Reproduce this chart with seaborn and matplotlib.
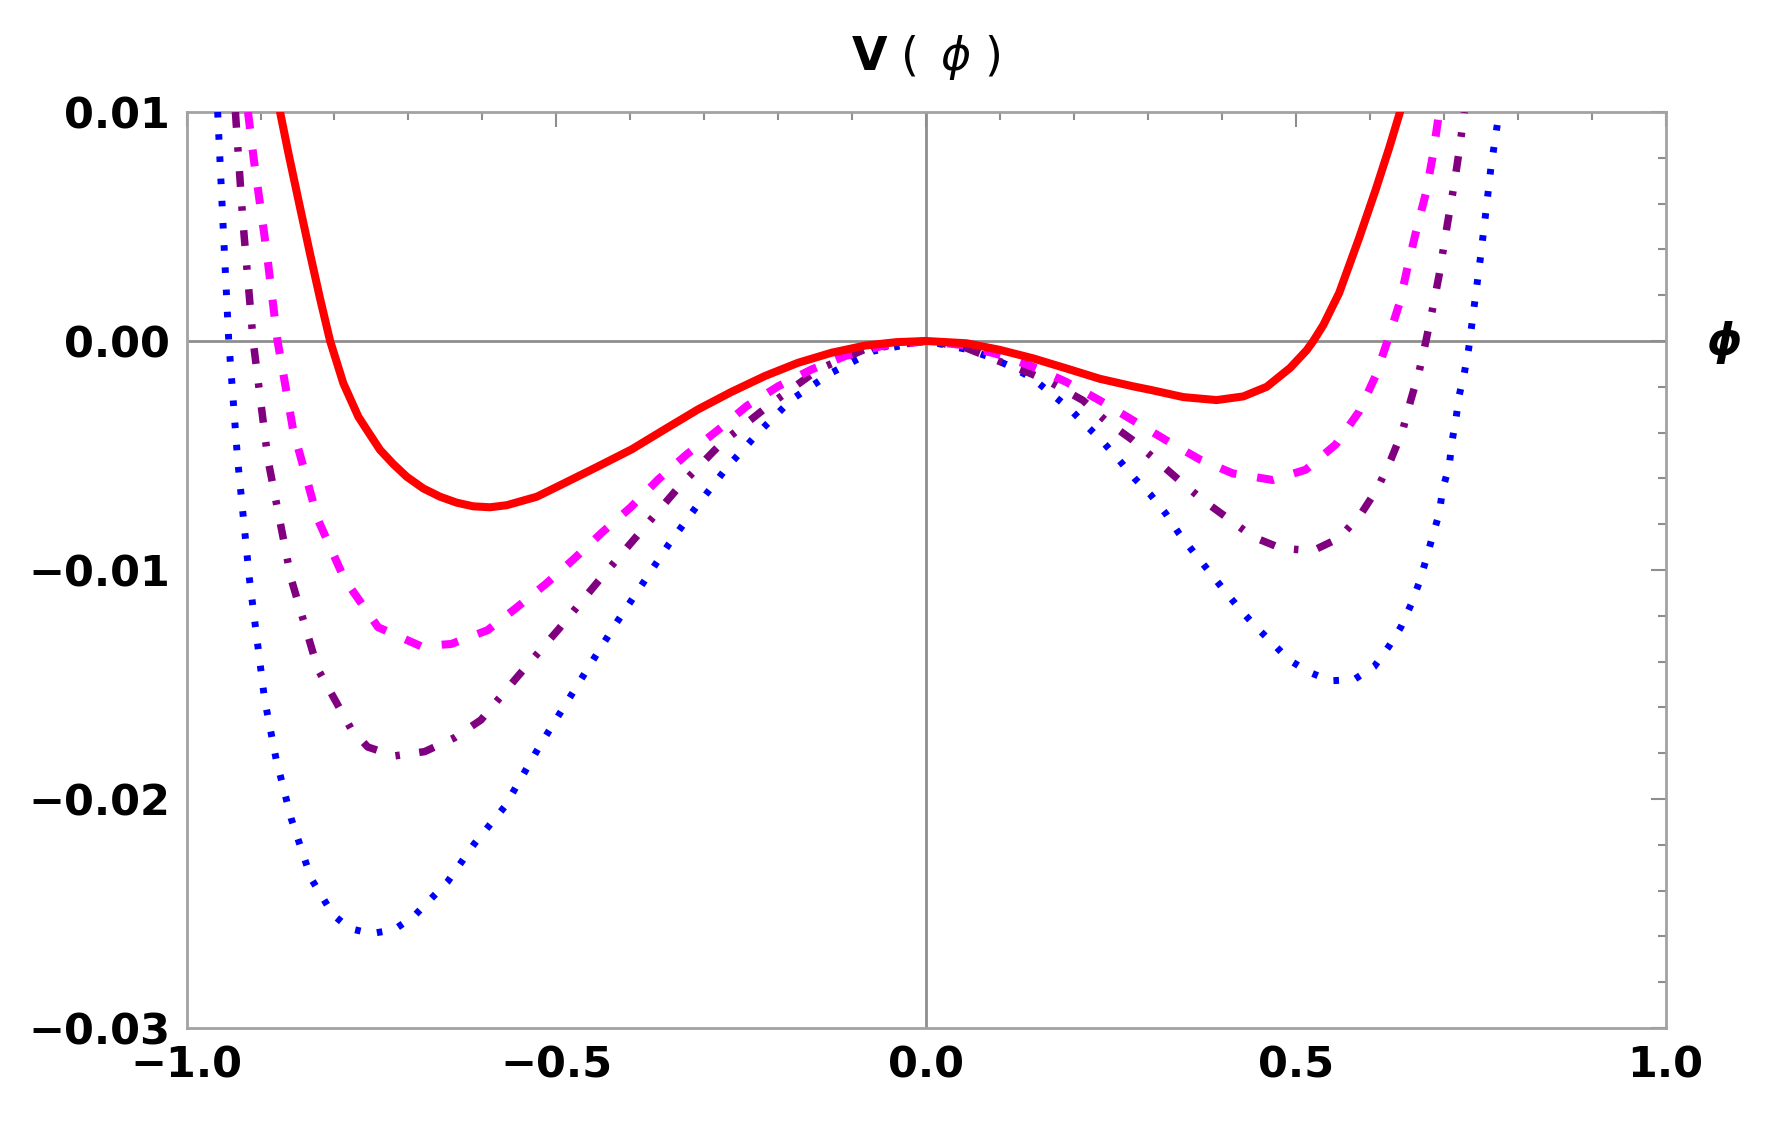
import matplotlib
matplotlib.use("Agg")
import matplotlib.pyplot as plt
import seaborn as sns
import numpy as np

# V(phi) samples (phi, V)
red_phi = [-0.8736, -0.8623, -0.8474, -0.8330, -0.8195, -0.8059, -0.7880, -0.7677, -0.7530, -0.7383,
           -0.7203, -0.7022, -0.6798, -0.6572, -0.6347, -0.6122, -0.5896, -0.5670, -0.5264, -0.4949,
           -0.445, -0.398, -0.353, -0.308, -0.263, -0.218, -0.173, -0.1275, -0.0825, -0.040,
           0.0, 0.055, 0.100, 0.145, 0.190, 0.235, 0.2800, 0.3029, 0.348, 0.393,
           0.429, 0.4607, 0.4922, 0.5148, 0.5237, 0.5373, 0.5587, 0.5857, 0.608, 0.626,
           0.641]
red_v = [0.0100, 0.0082, 0.00595, 0.0038, 0.00185, 0.0, -0.00185, -0.00331, -0.00404, -0.00476,
         -0.00538, -0.00593, -0.00644, -0.0068, -0.00706, -0.00722, -0.00726, -0.00717, -0.0068, -0.0063,
         -0.0055, -0.00473, -0.00385, -0.00298, -0.00222, -0.00153, -0.00095, -0.00051, -0.0002, -0.00005,
         0.0, -0.0001, -0.00039, -0.00076, -0.0012, -0.00165, -0.00198, -0.00213, -0.00245, -0.00258,
         -0.00242, -0.0020, -0.00118, -0.0004, 0.0, 0.0007, 0.0021, 0.0045, 0.0066, 0.0084,
         0.0100]

magenta_phi = [-0.917, -0.909, -0.892, -0.877, -0.856, -0.8225, -0.7865, -0.741, -0.683, -0.642,
               -0.593, -0.556, -0.515, -0.477, -0.4385, -0.400, -0.362, -0.3236, -0.283, -0.2425,
               -0.1996, -0.1546, -0.1095, -0.06, 0.0, 0.05, 0.099, 0.144, 0.189, 0.234,
               0.279, 0.324, 0.370, 0.4146, 0.4687, 0.5135, 0.554, 0.5857, 0.608, 0.624,
               0.640, 0.651, 0.6625, 0.676, 0.685, 0.694]
magenta_v = [0.0100, 0.0079, 0.00397, 0.0, -0.00387, -0.00779, -0.0104, -0.0125, -0.01333, -0.01323,
             -0.01263, -0.0117, -0.01063, -0.00954, -0.00837, -0.00728, -0.00604, -0.00495, -0.00393, -0.00284,
             -0.00197, -0.00124, -0.00066, -0.00022, 0.0, -0.00018, -0.0006, -0.00112, -0.00178, -0.00258,
             -0.00345, -0.00432, -0.00517, -0.00578, -0.00607, -0.00562, -0.00452, -0.00308, -0.00152, 0.0,
             0.00162, 0.00319, 0.00476, 0.00646, 0.00803, 0.0100]

purple_phi = [-0.934, -0.924, -0.910, -0.890, -0.8585, -0.8225, -0.7775, -0.755, -0.719, -0.678,
              -0.638, -0.602, -0.551, -0.497, -0.443, -0.389, -0.335, -0.276, -0.211, -0.1456,
              -0.0825, 0.0, 0.05, 0.10, 0.14, 0.171, 0.212, 0.243, 0.279, 0.311,
              0.342, 0.374, 0.408, 0.442, 0.480, 0.523, 0.559, 0.588, 0.6106, 0.6286,
              0.6444, 0.6557, 0.667, 0.676, 0.685, 0.694, 0.705, 0.714, 0.721, 0.728]
purple_v = [0.0100, 0.00528, 0.0, -0.00518, -0.0104, -0.01433, -0.01694, -0.01773, -0.01812, -0.01793,
            -0.01733, -0.01655, -0.01460, -0.01259, -0.01048, -0.00844, -0.0064, -0.00444, -0.00277, -0.00124,
            -0.00036, 0.0, -0.00025, -0.0009, -0.0014, -0.00185, -0.00259, -0.00348, -0.00432, -0.0052,
            -0.00607, -0.00694, -0.00774, -0.00855, -0.00905, -0.00916, -0.00860, -0.00756, -0.00643, -0.00518,
            -0.00392, -0.00256, -0.00131, 0.0, 0.0014, 0.0029, 0.0051, 0.0068, 0.0083, 0.0100]

blue_phi = [-0.958, -0.951, -0.943, -0.931, -0.915, -0.8946, -0.879, -0.8585, -0.8315, -0.802,
            -0.780, -0.750, -0.719, -0.692, -0.647, -0.611, -0.570, -0.521, -0.454, -0.420,
            -0.384, -0.348, -0.310, -0.2695, -0.2267, -0.1816, -0.1275, -0.0712, 0.0, 0.0586,
            0.0856, 0.115, 0.144, 0.169, 0.194, 0.216, 0.239, 0.261, 0.282, 0.304,
            0.324, 0.342, 0.363, 0.383, 0.403, 0.4236, 0.446, 0.4687, 0.491, 0.518,
            0.547, 0.579, 0.606, 0.626, 0.642, 0.656, 0.667, 0.676, 0.685, 0.694,
            0.6986, 0.7076, 0.711, 0.7166, 0.721, 0.728, 0.7338, 0.738, 0.750, 0.758,
            0.764, 0.770, 0.775]
blue_v = [0.0100, 0.00528, 0.0, -0.00518, -0.0104, -0.01563, -0.01825, -0.02086, -0.02348, -0.02505,
          -0.02565, -0.02588, -0.0257, -0.0251, -0.02361, -0.02196, -0.02034, -0.0176, -0.01412, -0.01237,
          -0.01063, -0.00888, -0.00721, -0.00553, -0.0040, -0.00255, -0.00138, -0.00044, 0.0, -0.00039,
          -0.0007, -0.00112, -0.00163, -0.00229, -0.00296, -0.00367, -0.0044, -0.0052, -0.0060, -0.00673,
          -0.00753, -0.0084, -0.00927, -0.01007, -0.01088, -0.01168, -0.01248, -0.0132, -0.01393, -0.01446,
          -0.01484, -0.01478, -0.01422, -0.01333, -0.0125, -0.0115, -0.01054, -0.00957, -0.00852, -0.00753,
          -0.00648, -0.00544, -0.00444, -0.0034, -0.00238, -0.00139, -0.00034, 0.0007, 0.0037, 0.0059,
          0.0076, 0.0089, 0.0100]

x_major = [-1.0, -0.5, 0.0, 0.5, 1.0]
x_labels = ["\u22121.0", "\u22120.5", "0.0", "0.5", "1.0"]
y_major = [-0.03, -0.02, -0.01, 0.0, 0.01]
y_labels = ["\u22120.03", "\u22120.02", "\u22120.01", "0.00", "0.01"]

sns.set_theme(style="white")
plt.rcParams["font.family"] = ["DejaVu Sans"]

W, H = 1773, 1129
fig = plt.figure(figsize=(W / 100, H / 100), dpi=100)
ax = fig.add_axes([186.6 / W, 1 - 1028 / H, (1665.5 - 186.6) / W, (1028 - 112) / H])

grey = "#8e8e8e"
ax.axhline(0, color=grey, lw=2.0, zorder=1)
ax.axvline(0, color=grey, lw=2.0, zorder=1)

# draw order: blue underneath, red on top
curves = [
    (blue_phi, blue_v, "#0000ff", 5.0, (0, (0.8, 2.4))),
    (purple_phi, purple_v, "#800080", 5.4, (0, (2.1, 2.6, 0.6, 2.6))),
    (magenta_phi, magenta_v, "#ff00ff", 5.8, (0, (2.1, 2.6))),
    (red_phi, red_v, "#ff0000", 5.8, "-"),
]
for i, (px, pv, col, lw, ls) in enumerate(curves):
    sns.lineplot(x=px, y=pv, color=col, linewidth=lw, linestyle=ls,
                 sort=False, estimator=None, ax=ax, zorder=3 + i)

ax.set_xlim(-1.0, 1.0)
ax.set_ylim(-0.03, 0.01)
ax.set_xticks(x_major)
ax.set_xticklabels(x_labels)
ax.set_xticks(np.round(np.arange(-1.0, 1.01, 0.1), 2), minor=True)
ax.set_yticks(y_major)
ax.set_yticklabels(y_labels)
ax.set_yticks(np.round(np.arange(-0.03, 0.0101, 0.002), 3), minor=True)
ax.set_xlabel("")
ax.set_ylabel("")

ax.tick_params(which="both", direction="in", top=True, right=True,
               color=grey, width=1.5)
ax.tick_params(which="major", length=11, labelsize=31)
ax.tick_params(which="minor", length=6)
ax.tick_params(axis="x", which="major", pad=12)
ax.tick_params(axis="y", which="major", pad=12)
for lbl in ax.get_xticklabels() + ax.get_yticklabels():
    lbl.set_fontweight("bold")
    lbl.set_color("black")

for sp in ax.spines.values():
    sp.set_color("#a2a2a2")
    sp.set_linewidth(2.0)
    sp.set_visible(True)

# title "V ( phi )": bold V, thin parentheses, oblique phi
title_parts = [("V", 870, "bold", "normal"), ("(", 910, "normal", "normal"),
               ("\u03d5", 956, "normal", "oblique"), (")", 993, "normal", "normal")]
for s, xc, wt, st in title_parts:
    fig.text(xc / W, 1 - 70 / H, s, fontsize=33, fontweight=wt, style=st,
             ha="center", va="baseline", color="black")

fig.text(1724 / W, 1 - 342 / H, "\u03d5", fontsize=32, fontweight="bold",
         style="oblique", ha="center", va="center", color="black")

fig.savefig("out.png", dpi=100, facecolor="white")
